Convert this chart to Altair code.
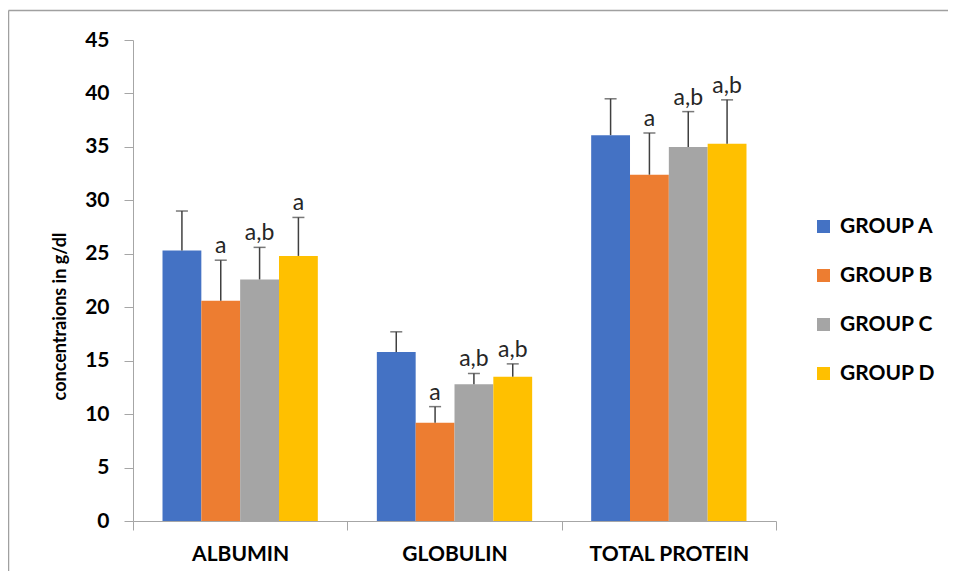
import altair as alt
import pandas as pd

categories = ["ALBUMIN", "GLOBULIN", "TOTAL PROTEIN"]
groups = ["GROUP A", "GROUP B", "GROUP C", "GROUP D"]
colors = ["#4472C4", "#ED7D31", "#A5A5A5", "#FFC000"]

albumin_mean = [25.3, 20.6, 22.6, 24.8]
albumin_upper = [29.0, 24.4, 25.6, 28.4]
albumin_sig = ["", "a", "a,b", "a"]

globulin_mean = [15.8, 9.2, 12.8, 13.5]
globulin_upper = [17.7, 10.7, 13.8, 14.7]
globulin_sig = ["", "a", "a,b", "a,b"]

total_mean = [36.1, 32.4, 35.0, 35.3]
total_upper = [39.5, 36.3, 38.3, 39.4]
total_sig = ["", "a", "a,b", "a,b"]

y_ticks = [0, 5, 10, 15, 20, 25, 30, 35, 40, 45]

rows = []
for cat, m, u, s in [
    ("ALBUMIN", albumin_mean, albumin_upper, albumin_sig),
    ("GLOBULIN", globulin_mean, globulin_upper, globulin_sig),
    ("TOTAL PROTEIN", total_mean, total_upper, total_sig),
]:
    for g, mv, uv, sv in zip(groups, m, u, s):
        rows.append({"category": cat, "group": g, "mean": mv, "upper": uv, "label": sv})
df = pd.DataFrame(rows)

FONT = "Lato"
AXIS_GRAY = "#A6A6A6"

x_enc = alt.X(
    "category:N",
    sort=categories,
    scale=alt.Scale(paddingInner=0, paddingOuter=0),
    axis=alt.Axis(
        title=None,
        labelAngle=0,
        labelFont=FONT,
        labelFontSize=21,
        labelFontWeight="bold",
        labelColor="#000000",
        labelPadding=13,
        tickBand="extent",
        tickSize=9,
        tickColor=AXIS_GRAY,
        domainColor=AXIS_GRAY,
        grid=False,
    ),
)
xo_enc = alt.XOffset(
    "group:N", sort=groups, scale=alt.Scale(paddingInner=0, paddingOuter=0.76)
)
y_scale = alt.Scale(domain=[0, 45], nice=False)

base = alt.Chart(df).encode(x=x_enc, xOffset=xo_enc)

bars = base.mark_bar().encode(
    y=alt.Y(
        "mean:Q",
        scale=y_scale,
        axis=alt.Axis(
            title="concentraions in g/dl",
            values=y_ticks,
            grid=False,
            labelFont=FONT,
            labelFontSize=21,
            labelFontWeight="bold",
            labelColor="#000000",
            labelPadding=15,
            tickSize=9,
            tickColor=AXIS_GRAY,
            domainColor=AXIS_GRAY,
            titleFont=FONT,
            titleFontSize=18,
            titleFontWeight="bold",
            titleColor="#000000",
            titleAngle=270,
            titleAlign="center",
            titleBaseline="middle",
            titleX=-73,
            titleY=276,
        ),
    ),
    color=alt.Color(
        "group:N",
        sort=groups,
        scale=alt.Scale(domain=groups, range=colors),
        legend=alt.Legend(
            title=None,
            orient="none",
            legendX=680,
            legendY=176,
            symbolType="square",
            symbolSize=169,
            symbolStrokeWidth=0,
            labelFont=FONT,
            labelFontSize=21,
            labelFontWeight="bold",
            labelColor="#000000",
            labelOffset=6,
            rowPadding=27,
            padding=0,
        ),
    ),
)

err = base.mark_rule(color="#404040", strokeWidth=1.5).encode(
    y=alt.Y("mean:Q", scale=y_scale), y2="upper:Q"
)
caps = base.mark_tick(color="#404040", thickness=1.5, size=12).encode(
    y=alt.Y("upper:Q", scale=y_scale)
)
sig = base.mark_text(
    baseline="alphabetic", dy=-7, font=FONT, fontSize=23, color="#262626"
).encode(y=alt.Y("upper:Q", scale=y_scale), text="label:N")

frame_df = pd.DataFrame({"k": [0]})
frame_left = alt.Chart(frame_df).mark_rule(color="#A0A0A0", strokeWidth=1.5).encode(
    x=alt.value(-124.5), y=alt.value(-29.5), y2=alt.value(535)
)
frame_top = alt.Chart(frame_df).mark_rule(color="#A0A0A0", strokeWidth=1.5).encode(
    x=alt.value(-124.5), x2=alt.value(820), y=alt.value(-29.5)
)

chart = (
    alt.layer(bars, err, caps, sig, frame_left, frame_top)
    .properties(
        width=643,
        height=481,
        autosize=alt.AutoSizeParams(type="none"),
        padding={"left": 125, "top": 32, "right": 172, "bottom": 50},
    )
    .configure_view(stroke=None)
)

chart.save("out.html", embed_options={"renderer": "svg", "actions": False})
